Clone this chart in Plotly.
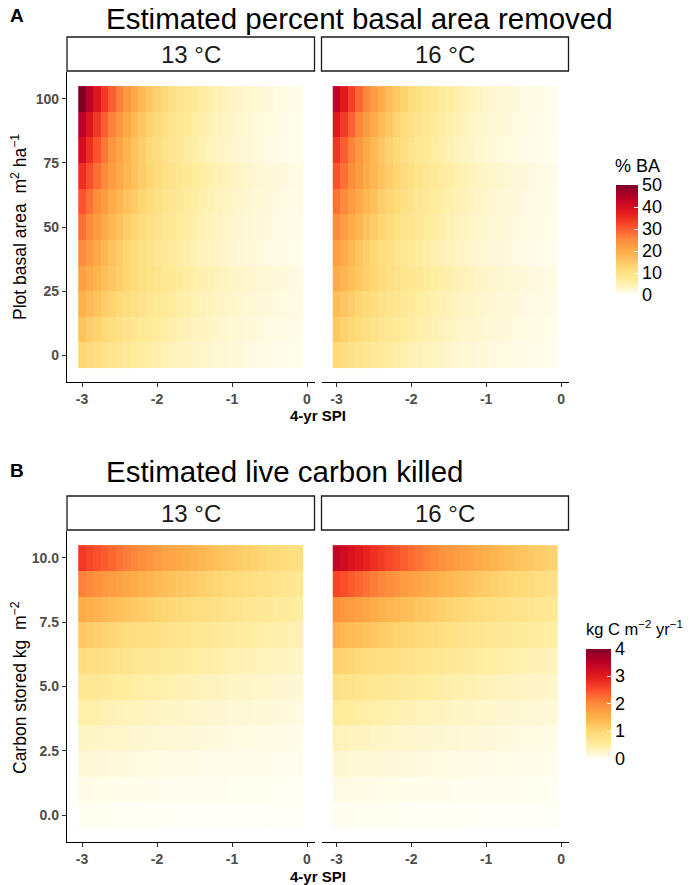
import plotly.graph_objects as go

# the page body keeps its 8px margin, so the figure fills the rest of the window
OFF = 8
W, H = 692 - OFF, 885 - OFF

# 4-yr SPI values (tile centres)
spi = [-3.0, -2.9, -2.8, -2.7, -2.6, -2.5, -2.4, -2.3, -2.2, -2.1,
       -2.0, -1.9, -1.8, -1.7, -1.6, -1.5, -1.4, -1.3, -1.2, -1.1,
       -1.0, -0.9, -0.8, -0.7, -0.6, -0.5, -0.4, -0.3, -0.2, -0.1]

# plot basal area rows, listed top (100) to bottom (0)
ba_levels = [100, 90, 80, 70, 60, 50, 40, 30, 20, 10, 0]

# carbon stored rows, listed top (10) to bottom (0)
carbon_levels = [10, 9, 8, 7, 6, 5, 4, 3, 2, 1, 0]

# % basal area removed, 13 C
ba_13 = [
    [50, 43.9, 38.6, 33.9, 29.8, 26.1, 22.9, 20.2, 17.7, 15.5, 13.7, 12.0, 10.5, 9.3, 8.1, 7.1, 6.3, 5.5, 4.8, 4.3, 3.7, 3.3, 2.9, 2.5, 2.2, 2.0, 1.7, 1.5, 1.3, 1.2],
    [44, 38.6, 33.9, 29.8, 26.2, 23.0, 20.2, 17.7, 15.5, 13.6, 12.0, 10.5, 9.2, 8.1, 7.1, 6.2, 5.5, 4.8, 4.2, 3.7, 3.3, 2.9, 2.5, 2.2, 1.9, 1.7, 1.5, 1.3, 1.1, 1.0],
    [40, 35.1, 30.8, 27.1, 23.8, 20.9, 18.3, 16.1, 14.1, 12.4, 10.9, 9.6, 8.4, 7.4, 6.5, 5.7, 5.0, 4.4, 3.8, 3.4, 3.0, 2.6, 2.3, 2.0, 1.8, 1.6, 1.4, 1.2, 1.0, 0.9],
    [35, 31.4, 28.1, 25.2, 22.5, 20.2, 18.1, 16.2, 14.5, 13.0, 11.7, 10.4, 9.3, 8.4, 7.5, 6.7, 6.0, 5.4, 4.8, 4.3, 3.9, 3.5, 3.1, 2.8, 2.5, 2.2, 2.0, 1.8, 1.6, 1.4],
    [31, 27.8, 24.9, 22.3, 20.0, 17.9, 16.0, 14.4, 12.9, 11.5, 10.3, 9.2, 8.3, 7.4, 6.6, 6.0, 5.3, 4.8, 4.3, 3.8, 3.4, 3.1, 2.8, 2.5, 2.2, 2.0, 1.8, 1.6, 1.4, 1.3],
    [28, 25.1, 22.5, 20.1, 18.0, 16.2, 14.5, 13.0, 11.6, 10.4, 9.3, 8.3, 7.5, 6.7, 6.0, 5.4, 4.8, 4.3, 3.9, 3.5, 3.1, 2.8, 2.5, 2.2, 2.0, 1.8, 1.6, 1.4, 1.3, 1.1],
    [25, 22.4, 20.1, 18.0, 16.1, 14.4, 12.9, 11.6, 10.4, 9.3, 8.3, 7.5, 6.7, 6.0, 5.4, 4.8, 4.3, 3.9, 3.5, 3.1, 2.8, 2.5, 2.2, 2.0, 1.8, 1.6, 1.4, 1.3, 1.2, 1.0],
    [22, 20.1, 18.4, 16.8, 15.4, 14.0, 12.8, 11.7, 10.7, 9.8, 9.0, 8.2, 7.5, 6.8, 6.2, 5.7, 5.2, 4.8, 4.4, 4.0, 3.6, 3.3, 3.0, 2.8, 2.5, 2.3, 2.1, 1.9, 1.8, 1.6],
    [19, 17.4, 15.9, 14.5, 13.3, 12.1, 11.1, 10.1, 9.3, 8.5, 7.7, 7.1, 6.5, 5.9, 5.4, 4.9, 4.5, 4.1, 3.8, 3.4, 3.1, 2.9, 2.6, 2.4, 2.2, 2.0, 1.8, 1.7, 1.5, 1.4],
    [16, 14.6, 13.4, 12.2, 11.2, 10.2, 9.3, 8.5, 7.8, 7.1, 6.5, 6.0, 5.4, 5.0, 4.5, 4.1, 3.8, 3.5, 3.2, 2.9, 2.6, 2.4, 2.2, 2.0, 1.8, 1.7, 1.5, 1.4, 1.3, 1.2],
    [13, 11.9, 10.9, 9.9, 9.1, 8.3, 7.6, 6.9, 6.3, 5.8, 5.3, 4.8, 4.4, 4.0, 3.7, 3.4, 3.1, 2.8, 2.6, 2.4, 2.1, 2.0, 1.8, 1.6, 1.5, 1.4, 1.2, 1.1, 1.0, 1.0],
]

# % basal area removed, 16 C
ba_16 = [
    [43, 37.8, 33.2, 29.1, 25.6, 22.4, 19.7, 17.3, 15.2, 13.3, 11.7, 10.3, 9.0, 8.0, 7.0, 6.1, 5.4, 4.7, 4.1, 3.7, 3.2, 2.8, 2.5, 2.2, 1.9, 1.7, 1.5, 1.3, 1.1, 1.0],
    [38, 33.4, 29.3, 25.7, 22.6, 19.8, 17.4, 15.3, 13.4, 11.8, 10.4, 9.1, 8.0, 7.0, 6.2, 5.4, 4.8, 4.2, 3.6, 3.2, 2.8, 2.5, 2.2, 1.9, 1.7, 1.5, 1.3, 1.1, 1.0, 0.9],
    [34, 29.9, 26.2, 23.0, 20.2, 17.7, 15.6, 13.7, 12.0, 10.5, 9.3, 8.1, 7.1, 6.3, 5.5, 4.8, 4.3, 3.7, 3.3, 2.9, 2.5, 2.2, 1.9, 1.7, 1.5, 1.3, 1.2, 1.0, 0.9, 0.8],
    [31, 27.8, 24.9, 22.3, 20.0, 17.9, 16.0, 14.4, 12.9, 11.5, 10.3, 9.2, 8.3, 7.4, 6.6, 6.0, 5.3, 4.8, 4.3, 3.8, 3.4, 3.1, 2.8, 2.5, 2.2, 2.0, 1.8, 1.6, 1.4, 1.3],
    [28, 25.1, 22.5, 20.1, 18.0, 16.2, 14.5, 13.0, 11.6, 10.4, 9.3, 8.3, 7.5, 6.7, 6.0, 5.4, 4.8, 4.3, 3.9, 3.5, 3.1, 2.8, 2.5, 2.2, 2.0, 1.8, 1.6, 1.4, 1.3, 1.1],
    [25, 22.4, 20.1, 18.0, 16.1, 14.4, 12.9, 11.6, 10.4, 9.3, 8.3, 7.5, 6.7, 6.0, 5.4, 4.8, 4.3, 3.9, 3.5, 3.1, 2.8, 2.5, 2.2, 2.0, 1.8, 1.6, 1.4, 1.3, 1.2, 1.0],
    [22, 19.7, 17.7, 15.8, 14.2, 12.7, 11.4, 10.2, 9.1, 8.2, 7.3, 6.6, 5.9, 5.3, 4.7, 4.2, 3.8, 3.4, 3.0, 2.7, 2.4, 2.2, 2.0, 1.8, 1.6, 1.4, 1.3, 1.1, 1.0, 0.9],
    [20, 18.3, 16.7, 15.3, 14.0, 12.8, 11.7, 10.7, 9.7, 8.9, 8.1, 7.4, 6.8, 6.2, 5.7, 5.2, 4.7, 4.3, 4.0, 3.6, 3.3, 3.0, 2.8, 2.5, 2.3, 2.1, 1.9, 1.8, 1.6, 1.5],
    [17, 15.5, 14.2, 13.0, 11.9, 10.8, 9.9, 9.1, 8.3, 7.6, 6.9, 6.3, 5.8, 5.3, 4.8, 4.4, 4.0, 3.7, 3.4, 3.1, 2.8, 2.6, 2.3, 2.1, 2.0, 1.8, 1.6, 1.5, 1.4, 1.3],
    [15, 13.7, 12.5, 11.4, 10.5, 9.6, 8.7, 8.0, 7.3, 6.7, 6.1, 5.6, 5.1, 4.7, 4.3, 3.9, 3.6, 3.2, 3.0, 2.7, 2.5, 2.3, 2.1, 1.9, 1.7, 1.6, 1.4, 1.3, 1.2, 1.1],
    [12, 11.0, 10.0, 9.2, 8.4, 7.7, 7.0, 6.4, 5.8, 5.3, 4.9, 4.5, 4.1, 3.7, 3.4, 3.1, 2.8, 2.6, 2.4, 2.2, 2.0, 1.8, 1.7, 1.5, 1.4, 1.3, 1.2, 1.1, 1.0, 0.9],
]

# live carbon killed (kg C m-2 yr-1), 13 C
carbon_13 = [
    [2.70, 2.59, 2.49, 2.39, 2.30, 2.21, 2.12, 2.04, 1.96, 1.88, 1.81, 1.74, 1.67, 1.61, 1.54, 1.48, 1.42, 1.37, 1.31, 1.26, 1.21, 1.17, 1.12, 1.08, 1.03, 0.99, 0.95, 0.92, 0.88, 0.85],
    [2.10, 2.02, 1.94, 1.86, 1.79, 1.72, 1.65, 1.59, 1.52, 1.47, 1.41, 1.35, 1.30, 1.25, 1.20, 1.15, 1.11, 1.06, 1.02, 0.98, 0.94, 0.91, 0.87, 0.84, 0.80, 0.77, 0.74, 0.71, 0.68, 0.66],
    [1.60, 1.54, 1.48, 1.42, 1.36, 1.31, 1.26, 1.21, 1.16, 1.12, 1.07, 1.03, 0.99, 0.95, 0.91, 0.88, 0.84, 0.81, 0.78, 0.75, 0.72, 0.69, 0.66, 0.64, 0.61, 0.59, 0.56, 0.54, 0.52, 0.50],
    [1.20, 1.15, 1.11, 1.06, 1.02, 0.98, 0.94, 0.91, 0.87, 0.84, 0.80, 0.77, 0.74, 0.71, 0.69, 0.66, 0.63, 0.61, 0.58, 0.56, 0.54, 0.52, 0.50, 0.48, 0.46, 0.44, 0.42, 0.41, 0.39, 0.38],
    [0.90, 0.86, 0.83, 0.80, 0.77, 0.74, 0.71, 0.68, 0.65, 0.63, 0.60, 0.58, 0.56, 0.54, 0.51, 0.49, 0.47, 0.46, 0.44, 0.42, 0.40, 0.39, 0.37, 0.36, 0.34, 0.33, 0.32, 0.31, 0.29, 0.28],
    [0.65, 0.62, 0.60, 0.58, 0.55, 0.53, 0.51, 0.49, 0.47, 0.45, 0.44, 0.42, 0.40, 0.39, 0.37, 0.36, 0.34, 0.33, 0.32, 0.30, 0.29, 0.28, 0.27, 0.26, 0.25, 0.24, 0.23, 0.22, 0.21, 0.20],
    [0.45, 0.43, 0.42, 0.40, 0.38, 0.37, 0.35, 0.34, 0.33, 0.31, 0.30, 0.29, 0.28, 0.27, 0.26, 0.25, 0.24, 0.23, 0.22, 0.21, 0.20, 0.19, 0.19, 0.18, 0.17, 0.17, 0.16, 0.15, 0.15, 0.14],
    [0.30, 0.29, 0.28, 0.27, 0.26, 0.25, 0.24, 0.23, 0.22, 0.21, 0.20, 0.19, 0.19, 0.18, 0.17, 0.16, 0.16, 0.15, 0.15, 0.14, 0.13, 0.13, 0.12, 0.12, 0.11, 0.11, 0.11, 0.10, 0.10, 0.09],
    [0.18, 0.17, 0.17, 0.16, 0.15, 0.15, 0.14, 0.14, 0.13, 0.13, 0.12, 0.12, 0.11, 0.11, 0.10, 0.10, 0.09, 0.09, 0.09, 0.08, 0.08, 0.08, 0.07, 0.07, 0.07, 0.07, 0.06, 0.06, 0.06, 0.06],
    [0.10, 0.10, 0.09, 0.09, 0.09, 0.08, 0.08, 0.08, 0.07, 0.07, 0.07, 0.06, 0.06, 0.06, 0.06, 0.05, 0.05, 0.05, 0.05, 0.05, 0.04, 0.04, 0.04, 0.04, 0.04, 0.04, 0.04, 0.03, 0.03, 0.03],
    [0.04, 0.04, 0.04, 0.04, 0.03, 0.03, 0.03, 0.03, 0.03, 0.03, 0.03, 0.03, 0.02, 0.02, 0.02, 0.02, 0.02, 0.02, 0.02, 0.02, 0.02, 0.02, 0.02, 0.02, 0.02, 0.01, 0.01, 0.01, 0.01, 0.01],
]

# live carbon killed (kg C m-2 yr-1), 16 C
carbon_16 = [
    [3.40, 3.27, 3.14, 3.02, 2.90, 2.78, 2.68, 2.57, 2.47, 2.37, 2.28, 2.19, 2.10, 2.02, 1.94, 1.87, 1.79, 1.72, 1.66, 1.59, 1.53, 1.47, 1.41, 1.36, 1.30, 1.25, 1.20, 1.16, 1.11, 1.06],
    [2.60, 2.50, 2.40, 2.31, 2.22, 2.13, 2.05, 1.97, 1.89, 1.81, 1.74, 1.67, 1.61, 1.55, 1.48, 1.43, 1.37, 1.32, 1.27, 1.22, 1.17, 1.12, 1.08, 1.04, 1.00, 0.96, 0.92, 0.88, 0.85, 0.81],
    [1.95, 1.87, 1.80, 1.73, 1.66, 1.60, 1.53, 1.47, 1.42, 1.36, 1.31, 1.26, 1.21, 1.16, 1.11, 1.07, 1.03, 0.99, 0.95, 0.91, 0.88, 0.84, 0.81, 0.78, 0.75, 0.72, 0.69, 0.66, 0.64, 0.61],
    [1.50, 1.44, 1.38, 1.33, 1.28, 1.23, 1.18, 1.13, 1.09, 1.05, 1.01, 0.97, 0.93, 0.89, 0.86, 0.82, 0.79, 0.76, 0.73, 0.70, 0.67, 0.65, 0.62, 0.60, 0.57, 0.55, 0.53, 0.51, 0.49, 0.47],
    [1.10, 1.06, 1.02, 0.98, 0.94, 0.90, 0.87, 0.83, 0.80, 0.77, 0.74, 0.71, 0.68, 0.65, 0.63, 0.60, 0.58, 0.56, 0.54, 0.51, 0.49, 0.48, 0.46, 0.44, 0.42, 0.40, 0.39, 0.37, 0.36, 0.34],
    [0.80, 0.77, 0.74, 0.71, 0.68, 0.66, 0.63, 0.60, 0.58, 0.56, 0.54, 0.52, 0.50, 0.48, 0.46, 0.44, 0.42, 0.41, 0.39, 0.37, 0.36, 0.35, 0.33, 0.32, 0.31, 0.29, 0.28, 0.27, 0.26, 0.25],
    [0.55, 0.53, 0.51, 0.49, 0.47, 0.45, 0.43, 0.42, 0.40, 0.38, 0.37, 0.35, 0.34, 0.33, 0.31, 0.30, 0.29, 0.28, 0.27, 0.26, 0.25, 0.24, 0.23, 0.22, 0.21, 0.20, 0.19, 0.19, 0.18, 0.17],
    [0.36, 0.35, 0.33, 0.32, 0.31, 0.29, 0.28, 0.27, 0.26, 0.25, 0.24, 0.23, 0.22, 0.21, 0.21, 0.20, 0.19, 0.18, 0.18, 0.17, 0.16, 0.16, 0.15, 0.14, 0.14, 0.13, 0.13, 0.12, 0.12, 0.11],
    [0.22, 0.21, 0.20, 0.20, 0.19, 0.18, 0.17, 0.17, 0.16, 0.15, 0.15, 0.14, 0.14, 0.13, 0.13, 0.12, 0.12, 0.11, 0.11, 0.10, 0.10, 0.10, 0.09, 0.09, 0.08, 0.08, 0.08, 0.07, 0.07, 0.07],
    [0.12, 0.12, 0.11, 0.11, 0.10, 0.10, 0.09, 0.09, 0.09, 0.08, 0.08, 0.08, 0.07, 0.07, 0.07, 0.07, 0.06, 0.06, 0.06, 0.06, 0.05, 0.05, 0.05, 0.05, 0.05, 0.04, 0.04, 0.04, 0.04, 0.04],
    [0.05, 0.05, 0.05, 0.04, 0.04, 0.04, 0.04, 0.04, 0.04, 0.03, 0.03, 0.03, 0.03, 0.03, 0.03, 0.03, 0.03, 0.03, 0.02, 0.02, 0.02, 0.02, 0.02, 0.02, 0.02, 0.02, 0.02, 0.02, 0.02, 0.02],
]

facet_labels = ["13 °C", "16 °C"]
spi_ticks = [-3, -2, -1, 0]
spi_ticktext = ["-3", "-2", "-1", "0"]
ba_ticks = [0, 25, 50, 75, 100]
carbon_ticks = [0, 2.5, 5, 7.5, 10]
carbon_ticktext = ["0.0", "2.5", "5.0", "7.5", "10.0"]

YLORRD = [
    [0.0, "#FFFFF8"], [0.125, "#FFEDA0"], [0.25, "#FED976"], [0.375, "#FEB24C"],
    [0.5, "#FD8D3C"], [0.625, "#FC4E2A"], [0.75, "#E31A1C"], [0.875, "#BD0026"],
    [1.0, "#800026"],
]

FONT = "Liberation Sans, Arial, sans-serif"
TICK_FONT = dict(family=FONT, size=14, color="#4D4D4D", weight="bold")


def px_x(v):
    # window pixel -> paper fraction
    return (v - OFF) / W


def px_y(v):
    return 1 - (v - OFF) / H


# panel boxes in window pixels: (left, right), (top, bottom)
cols_px = [(67, 314.5), (321.5, 568.5)]
rows_px = [(72, 382), (531, 842)]
strip_px = [(37, 71), (496, 530)]

fig = go.Figure()

panels = [
    (ba_13, 0, 0, ba_levels, "coloraxis"),
    (ba_16, 0, 1, ba_levels, "coloraxis"),
    (carbon_13, 1, 0, carbon_levels, "coloraxis2"),
    (carbon_16, 1, 1, carbon_levels, "coloraxis2"),
]

for k, (z, r, c, ylev, cax) in enumerate(panels):
    n = k + 1
    suffix = "" if n == 1 else str(n)
    fig.add_trace(go.Heatmap(
        x=spi, y=ylev[::-1], z=z[::-1],
        coloraxis=cax, xaxis="x" + suffix, yaxis="y" + suffix,
    ))
    xl, xr = cols_px[c]
    yt, yb = rows_px[r]
    fig.layout["xaxis" + suffix] = dict(
        domain=[px_x(xl), px_x(xr)], range=[-3.2, 0.1], anchor="y" + suffix,
        tickvals=spi_ticks, ticktext=spi_ticktext, ticks="outside", ticklen=4,
        tickcolor="#333333", tickwidth=1.1, showline=True, linecolor="#000000",
        linewidth=1.3, showgrid=False, zeroline=False, tickfont=TICK_FONT,
    )
    if r == 0:
        yrange = [-10.5, 110.5]
        yticks, ytext = ba_ticks, [str(v) for v in ba_ticks]
    else:
        yrange = [-1.05, 11.05]
        yticks, ytext = carbon_ticks, carbon_ticktext
    yax = dict(
        domain=[px_y(yb), px_y(yt)], range=yrange, anchor="x" + suffix,
        showgrid=False, zeroline=False,
    )
    if c == 0:
        yax.update(tickvals=yticks, ticktext=ytext, ticks="outside", ticklen=4,
                   tickcolor="#333333", tickwidth=1.1, showline=True,
                   linecolor="#000000", linewidth=1.3, tickfont=TICK_FONT)
    else:
        yax.update(showticklabels=False, ticks="", showline=False)
    fig.layout["yaxis" + suffix] = yax

shapes = []
annotations = []


def label(text, x, y, size, xanchor="center", bold=False, angle=0, color="#000000"):
    font = dict(family=FONT, size=size, color=color)
    if bold:
        font["weight"] = "bold"
    annotations.append(dict(
        text=text, x=px_x(x), y=px_y(y), xref="paper", yref="paper",
        showarrow=False, xanchor=xanchor, yanchor="middle", textangle=angle,
        font=font,
    ))


# facet strips
for r in range(2):
    st, sb = strip_px[r]
    for c in range(2):
        xl, xr = cols_px[c]
        shapes.append(dict(
            type="rect", xref="paper", yref="paper",
            x0=px_x(xl), x1=px_x(xr), y0=px_y(sb), y1=px_y(st),
            line=dict(color="#1A1A1A", width=1.3), fillcolor="white", layer="above",
        ))
        label(facet_labels[c], (xl + xr) / 2, (st + sb) / 2, 24, color="#1A1A1A")

label("A", 8, 16, 19, xanchor="left", bold=True)
label("B", 8, 470, 19, xanchor="left", bold=True)
label("Estimated percent basal area removed", 104, 19, 29.5, xanchor="left")
label("Estimated live carbon killed", 104, 471, 29.5, xanchor="left")
label("4-yr SPI", 318, 415, 15, bold=True)
label("4-yr SPI", 318, 876, 15, bold=True)
label("Plot basal area\u00a0 m<sup>2</sup> ha<sup>\u22121</sup>", 19, 227, 17.5, angle=-90)
label("Carbon stored kg\u00a0 m<sup>\u22122</sup>", 19, 688, 17.5, angle=-90)
label("% BA", 613, 166, 18, xanchor="left")
label("kg C m<sup>\u22122</sup> yr<sup>\u22121</sup>", 584, 628, 16.5, xanchor="left")

cb_common = dict(
    thicknessmode="pixels", lenmode="pixels", len=110, xanchor="left",
    yanchor="middle", xpad=0, ypad=0, outlinewidth=0, ticks="inside",
    ticklen=4, tickcolor="white", tickwidth=1,
    tickfont=dict(family=FONT, size=18, color="#000000"),
)

fig.update_layout(
    width=W, height=H, margin=dict(l=0, r=0, t=0, b=0),
    paper_bgcolor="white", plot_bgcolor="white", showlegend=False,
    shapes=shapes, annotations=annotations,
    coloraxis=dict(
        colorscale=YLORRD, cmin=0, cmax=50,
        colorbar=dict(x=px_x(616), y=px_y(240), thickness=22,
                      tickvals=[0, 10, 20, 30, 40, 50], **cb_common),
    ),
    coloraxis2=dict(
        colorscale=YLORRD, cmin=0, cmax=4,
        colorbar=dict(x=px_x(586), y=px_y(703.5), thickness=25,
                      tickvals=[0, 1, 2, 3, 4], **cb_common),
    ),
)

fig.write_html("out.html")
